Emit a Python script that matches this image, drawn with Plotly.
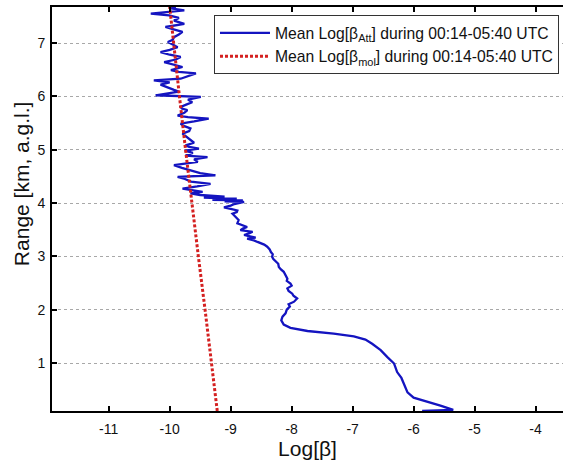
import plotly.graph_objects as go

# Attenuated backscatter profile (blue)
att_range_km = [
    0.10, 0.12, 0.20, 0.28, 0.35, 0.45, 0.60, 0.72, 0.83, 0.99, 1.11, 1.24, 1.36, 1.44, 1.50,
    1.55, 1.60, 1.66, 1.72, 1.80, 1.87, 1.93, 2.00, 2.06, 2.10, 2.15, 2.21, 2.26, 2.30, 2.35,
    2.40, 2.45, 2.49, 2.54, 2.58, 2.65, 2.71, 2.76, 2.80, 2.86, 2.90, 2.95, 2.99, 3.04, 3.08,
    3.13, 3.18, 3.22, 3.27, 3.30, 3.33, 3.35, 3.38, 3.40, 3.43, 3.46, 3.49, 3.52, 3.55, 3.59,
    3.62, 3.68, 3.74, 3.80, 3.83, 3.86, 3.89, 3.92, 3.95, 3.98, 4.00, 4.02, 4.03, 4.05, 4.06,
    4.08, 4.10, 4.12, 4.15, 4.18, 4.21, 4.24, 4.27, 4.31, 4.34, 4.36, 4.40, 4.45, 4.49, 4.52,
    4.56, 4.61, 4.66, 4.71, 4.74, 4.77, 4.82, 4.86, 4.89, 4.94, 4.98, 5.02, 5.05, 5.08, 5.13,
    5.18, 5.24, 5.30, 5.35, 5.40, 5.45, 5.49, 5.53, 5.56, 5.58, 5.61, 5.64, 5.69, 5.74, 5.77,
    5.80, 5.85, 5.89, 5.94, 5.99, 6.02, 6.06, 6.09, 6.12, 6.17, 6.22, 6.26, 6.30, 6.33, 6.38,
    6.43, 6.46, 6.49, 6.55, 6.60, 6.64, 6.69, 6.74, 6.78, 6.83, 6.87, 6.92, 6.97, 7.02, 7.06,
    7.11, 7.16, 7.21, 7.26, 7.30, 7.36, 7.42, 7.47, 7.52, 7.55, 7.58, 7.61, 7.65, 7.68,
]
att_log_beta = [
    -5.86, -5.35, -5.56, -5.78, -6.00, -6.10, -6.16, -6.20, -6.27, -6.32, -6.43, -6.54, -6.68, -6.79, -6.98,
    -7.31, -7.74, -8.02, -8.13, -8.17, -8.15, -8.10, -8.08, -8.03, -8.05, -7.96, -7.91, -7.97, -7.99, -8.05,
    -8.07, -8.00, -8.02, -8.08, -8.07, -8.11, -8.13, -8.18, -8.21, -8.22, -8.26, -8.30, -8.32, -8.31, -8.34,
    -8.36, -8.40, -8.45, -8.56, -8.62, -8.73, -8.59, -8.70, -8.78, -8.70, -8.64, -8.84, -8.80, -8.73, -8.84,
    -8.89, -8.87, -8.92, -8.97, -8.90, -8.89, -9.00, -9.11, -9.00, -8.94, -8.85, -8.78, -9.10, -8.80, -9.30,
    -8.90, -9.44, -9.10, -9.50, -9.66, -9.46, -9.60, -9.79, -9.55, -9.40, -9.33, -9.65, -9.75, -9.87, -9.25,
    -9.50, -9.66, -9.80, -9.93, -9.70, -9.54, -9.60, -9.38, -9.74, -9.62, -9.75, -9.52, -9.68, -9.74, -9.60,
    -9.66, -9.72, -9.79, -9.68, -9.66, -9.78, -9.82, -9.60, -9.40, -9.36, -9.70, -9.87, -9.76, -9.71, -9.80,
    -9.82, -9.72, -9.63, -9.70, -9.49, -10.23, -10.00, -9.85, -9.93, -10.05, -10.15, -10.00, -10.26, -9.82, -9.70,
    -9.57, -9.85, -9.98, -9.79, -9.95, -10.09, -9.90, -9.82, -10.00, -10.15, -10.00, -9.87, -9.95, -10.03, -9.95,
    -9.93, -9.85, -9.79, -9.95, -10.07, -9.76, -9.93, -9.85, -10.01, -10.31, -10.05, -9.76, -9.98, -9.90,
]

# Molecular backscatter profile (red)
mol_range_km = [0.10, 1.0, 2.0, 3.0, 4.0, 5.0, 6.0, 7.0, 7.68]
mol_log_beta = [-9.22, -9.31, -9.42, -9.53, -9.64, -9.74, -9.84, -9.94, -10.00]

x_tick_vals = [-11, -10, -9, -8, -7, -6, -5, -4]
x_tick_text = ["-11", "-10", "-9", "-8", "-7", "-6", "-5", "-4"]
y_tick_vals = [1, 2, 3, 4, 5, 6, 7]
y_tick_text = ["1", "2", "3", "4", "5", "6", "7"]

font_family = "Arial, Liberation Sans, Helvetica, sans-serif"

fig = go.Figure()
fig.add_trace(go.Scatter(
    x=att_log_beta, y=att_range_km, mode="lines",
    line=dict(color="#1414c0", width=2.3),
    name="Mean Log[β<sub>Att</sub>] during 00:14-05:40 UTC",
))
fig.add_trace(go.Scatter(
    x=mol_log_beta, y=mol_range_km, mode="lines",
    line=dict(color="#d42020", width=3, dash="3px,2px"),
    name="Mean Log[β<sub>mol</sub>] during 00:14-05:40 UTC",
))

fig.update_layout(
    width=563, height=461,
    margin=dict(l=52, r=0, t=7, b=50),
    paper_bgcolor="white", plot_bgcolor="white",
    font=dict(family=font_family, color="#111111", size=14),
    showlegend=True,
    legend=dict(
        x=0.317, y=0.98, xanchor="left", yanchor="top",
        bgcolor="white", bordercolor="#333333", borderwidth=1,
        font=dict(size=15.7, family=font_family, color="#111111"),
        tracegroupgap=0, itemwidth=50,
    ),
    xaxis=dict(
        range=[-11.93, -3.55],
        tickvals=x_tick_vals, ticktext=x_tick_text,
        ticks="inside", ticklen=5, tickwidth=1.5, tickcolor="black",
        showline=True, linecolor="black", linewidth=2, mirror="ticks",
        showgrid=False, zeroline=False, automargin=False,
        tickfont=dict(size=14), ticklabelstandoff=4,
        title=dict(text="Log[β]", font=dict(size=21), standoff=2),
    ),
    yaxis=dict(
        range=[0.1, 7.675],
        tickvals=y_tick_vals, ticktext=y_tick_text,
        ticks="inside", ticklen=5, tickwidth=1.5, tickcolor="black",
        showline=True, linecolor="black", linewidth=2, mirror=False,
        showgrid=True, gridcolor="#a8a8a8", gridwidth=1, griddash="dot",
        zeroline=False, automargin=False,
        tickfont=dict(size=14), ticklabelstandoff=2,
    ),
    annotations=[dict(
        text="Range [km, a.g.l.]", textangle=-90,
        xref="paper", yref="paper", x=-0.0607, y=0.564,
        xanchor="center", yanchor="middle", showarrow=False,
        font=dict(size=21, family=font_family, color="#111111"),
    )],
)

fig.write_html("out.html", config={"displayModeBar": False},
               post_script="document.body.style.margin='0px';")
